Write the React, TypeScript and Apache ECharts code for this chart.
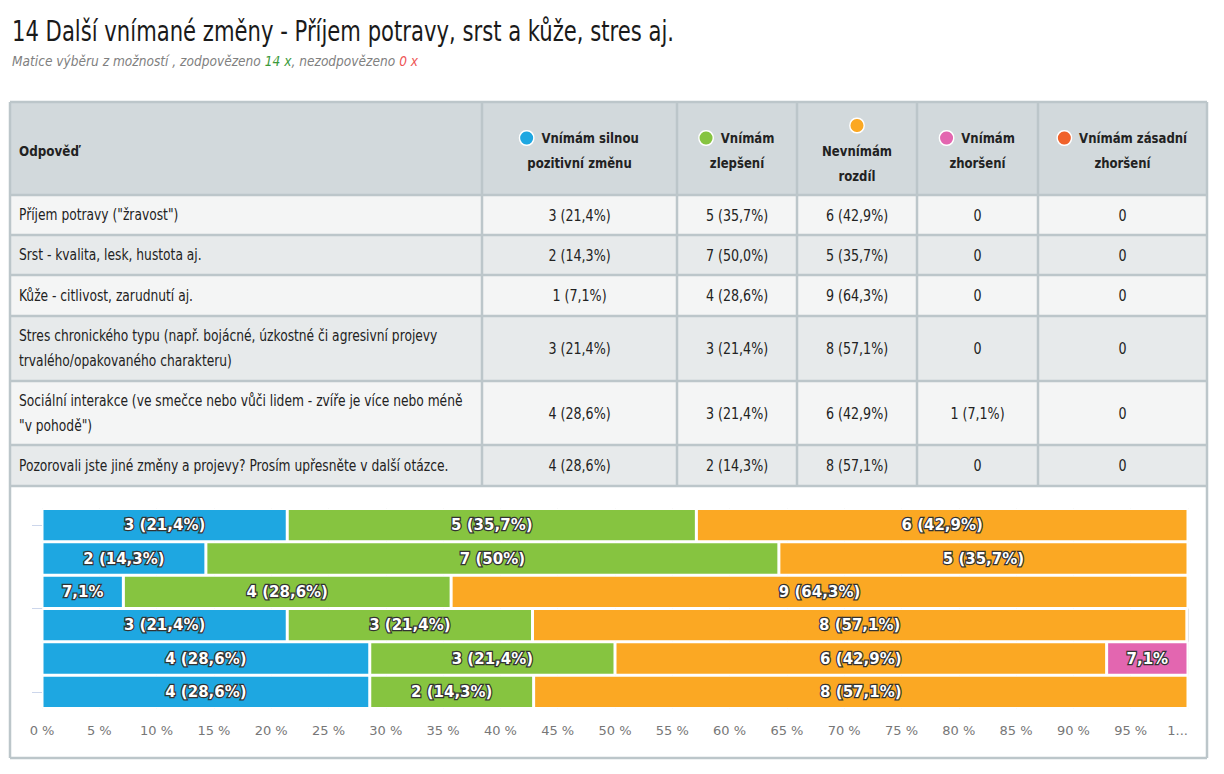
import React, { useEffect, useRef } from 'react';
import * as echarts from 'echarts';

const titleText = '14 Další vnímané změny - Příjem potravy, srst a kůže, stres aj.';
const subtitlePrefix = 'Matice výběru z možností , zodpovězeno ';
const answeredCount = 14;
const subtitleMiddle = ', nezodpovězeno ';
const unansweredCount = 0;

const answerHeader = 'Odpověď';
const categories = [
  'Příjem potravy ("žravost")',
  'Srst - kvalita, lesk, hustota aj.',
  'Kůže - citlivost, zarudnutí aj.',
  'Stres chronického typu (např. bojácné, úzkostné či agresivní projevy trvalého/opakovaného charakteru)',
  'Sociální interakce (ve smečce nebo vůči lidem - zvíře je více nebo méně "v pohodě")',
  'Pozorovali jste jiné změny a projevy? Prosím upřesněte v další otázce.',
];
// number of words on the first line of each row label (0 = no wrap)
const firstLineWords = [0, 0, 0, 9, 13, 0];

const seriesNames = [
  'Vnímám silnou pozitivní změnu',
  'Vnímám zlepšení',
  'Nevnímám rozdíl',
  'Vnímám zhoršení',
  'Vnímám zásadní zhoršení',
];
// header wrapping as shown in the table
const headerLines = [
  ['Vnímám silnou', 'pozitivní změnu'],
  ['Vnímám', 'zlepšení'],
  ['', 'Nevnímám', 'rozdíl'],
  ['Vnímám', 'zhoršení'],
  ['Vnímám zásadní', 'zhoršení'],
];
const seriesColors = ['#1ea7e1', '#86c440', '#fba823', '#e366b0', '#f0622b'];

const countsStrong = [3, 2, 1, 3, 4, 4];
const countsBetter = [5, 7, 4, 3, 3, 2];
const countsSame = [6, 5, 9, 8, 6, 8];
const countsWorse = [0, 0, 0, 0, 1, 0];
const countsMuchWorse = [0, 0, 0, 0, 0, 0];

const pctStrong = [21.4, 14.3, 7.1, 21.4, 28.6, 28.6];
const pctBetter = [35.7, 50.0, 28.6, 21.4, 21.4, 14.3];
const pctSame = [42.9, 35.7, 64.3, 57.1, 42.9, 57.1];
const pctWorse = [0, 0, 0, 0, 7.1, 0];
const pctMuchWorse = [0, 0, 0, 0, 0, 0];

const countsAll = [countsStrong, countsBetter, countsSame, countsWorse, countsMuchWorse];
const pctAll = [pctStrong, pctBetter, pctSame, pctWorse, pctMuchWorse];

// layout
const colX = [10, 482, 677, 797, 917, 1038, 1207];
const rowY = [102, 195, 235, 275, 316, 381, 445, 486];
const panelBottom = 758;

const FONT_NARROW = "'DejaVu Sans Condensed', 'DejaVu Sans', sans-serif";
const FONT_CHART = "'DejaVu Sans', sans-serif";

const fmtLong = (p: number) => p.toFixed(1).replace('.', ',');
const fmtShort = (p: number) => {
  const s = p.toFixed(1);
  return (s.endsWith('.0') ? s.slice(0, -2) : s).replace('.', ',');
};
const wrapLabel = (s: string, n: number) => {
  if (!n) return s;
  const w = s.split(' ');
  return w.slice(0, n).join(' ') + '\n' + w.slice(n).join(' ');
};

export default function App() {
  const ref = useRef<HTMLDivElement>(null);
  useEffect(() => {
    if (!ref.current) return;
    const chart = echarts.init(ref.current, undefined, { renderer: 'svg' });

    const g: any[] = [];
    const borderColor = '#bcc6ca';
    g.push({ type: 'rect', shape: { x: colX[0], y: rowY[0], width: colX[6] - colX[0], height: panelBottom - rowY[0] }, style: { fill: '#ffffff' }, z: 0 });
    g.push({ type: 'rect', shape: { x: colX[0], y: rowY[0], width: colX[6] - colX[0], height: rowY[1] - rowY[0] }, style: { fill: '#d2d9dc' }, z: 1 });
    for (let r = 0; r < categories.length; r++) {
      g.push({ type: 'rect', shape: { x: colX[0], y: rowY[r + 1], width: colX[6] - colX[0], height: rowY[r + 2] - rowY[r + 1] }, style: { fill: r % 2 === 0 ? '#f4f5f5' : '#e7eaeb' }, z: 1 });
    }
    const lines: number[][] = [];
    rowY.forEach((y) => lines.push([colX[0], y, colX[6], y]));
    lines.push([colX[0], panelBottom, colX[6], panelBottom]);
    colX.forEach((x, i) => {
      if (i === 0 || i === colX.length - 1) lines.push([x, rowY[0], x, panelBottom]);
      else lines.push([x, rowY[0], x, rowY[rowY.length - 1]]);
    });
    lines.forEach(([x1, y1, x2, y2]) =>
      g.push({ type: 'line', shape: { x1, y1, x2, y2 }, style: { stroke: borderColor, lineWidth: 2.5 }, z: 2 })
    );

    // title & subtitle
    g.push({ type: 'text', x: 12, y: 31, scaleX: 0.84, z: 5, style: { text: titleText, fontSize: 28, fontFamily: FONT_NARROW, fill: '#1a1a1a', verticalAlign: 'middle', align: 'left' } });
    g.push({
      type: 'text', x: 12, y: 61, scaleX: 0.97, z: 5,
      style: {
        text: `{a|${subtitlePrefix}}{g|${answeredCount} x}{a|${subtitleMiddle}}{r|${unansweredCount} x}`,
        verticalAlign: 'middle', align: 'left',
        rich: {
          a: { fontSize: 14, fontStyle: 'italic', fontFamily: FONT_NARROW, fill: '#808080' },
          g: { fontSize: 14, fontStyle: 'italic', fontFamily: FONT_NARROW, fill: '#3a9a3a' },
          r: { fontSize: 14, fontStyle: 'italic', fontFamily: FONT_NARROW, fill: '#ee5555' },
        },
      },
    });

    // header texts
    const headMidY = (rowY[0] + rowY[1]) / 2 + 2;
    g.push({ type: 'text', x: 19, y: headMidY, scaleX: 0.95, z: 5, style: { text: answerHeader, fontSize: 14, fontWeight: 'bold', fontFamily: FONT_NARROW, fill: '#222', verticalAlign: 'middle', align: 'left' } });
    headerLines.forEach((ls, i) => {
      const cx = (colX[i + 1] + colX[i + 2]) / 2;
      const first = ls[0] === '' ? '{dot|}' : `{dot|}  ${ls[0]}`;
      const text = [first, ...ls.slice(1)].join('\n');
      g.push({
        type: 'text', x: cx, y: headMidY, scaleX: 0.93, z: 5,
        style: {
          text, fontSize: 14, fontWeight: 'bold', fontFamily: FONT_NARROW, fill: '#222', lineHeight: 25,
          align: 'center', verticalAlign: 'middle',
          rich: { dot: { width: 14, height: 13, borderRadius: 7, backgroundColor: seriesColors[i], borderColor: '#ffffff', borderWidth: 1.5 } },
        },
      });
    });

    // body texts
    categories.forEach((cat, r) => {
      const cy = (rowY[r + 1] + rowY[r + 2]) / 2;
      g.push({ type: 'text', x: 19, y: cy, scaleX: 0.91, z: 5, style: { text: wrapLabel(cat, firstLineWords[r]), lineHeight: 25, fontSize: 15, fontFamily: FONT_NARROW, fill: '#222', verticalAlign: 'middle', align: 'left' } });
      countsAll.forEach((arr, s) => {
        const c = arr[r];
        const txt = c === 0 ? '0' : `${c} (${fmtLong(pctAll[s][r])}%)`;
        const cx = (colX[s + 1] + colX[s + 2]) / 2;
        g.push({ type: 'text', x: cx, y: cy, scaleX: 0.94, z: 5, style: { text: txt, fontSize: 15, fontFamily: FONT_NARROW, fill: '#222', verticalAlign: 'middle', align: 'center' } });
      });
    });

    const series = seriesNames.map((name, s) => ({
      name,
      type: 'bar',
      stack: 'total',
      barWidth: '100%',
      yAxisIndex: 0,
      itemStyle: { color: seriesColors[s], borderColor: '#ffffff', borderWidth: 1.5 },
      emphasis: { disabled: true },
      label: {
        show: true,
        position: 'inside',
        color: '#ffffff',
        fontSize: 15,
        fontWeight: 'bold',
        fontFamily: FONT_CHART,
        textBorderColor: '#333333',
        textBorderWidth: 2.5,
        formatter: (p: any) => {
          const c = p.data.count;
          if (!c) return '';
          const v = p.data.value;
          return v < 10 ? `${fmtShort(v)}%` : `${c} (${fmtShort(v)}%)`;
        },
      },
      data: pctAll[s].map((v, r) => ({ value: v, count: countsAll[s][r] })),
    }));

    chart.setOption({
      animation: false,
      grid: { left: 42, right: 36, top: 508.5, height: 200 },
      xAxis: {
        type: 'value', min: 0, max: 100, interval: 5,
        axisLine: { show: false }, axisTick: { show: false },
        splitLine: { lineStyle: { color: '#e6e6e6' } },
        axisLabel: { color: '#777777', fontSize: 13, fontFamily: FONT_CHART, margin: 15, alignMaxLabel: 'right', formatter: (v: number) => (v === 100 ? '1...' : `${v} %`) },
      },
      yAxis: [
        { type: 'category', data: categories, inverse: true, axisLabel: { show: false }, axisLine: { show: false }, axisTick: { show: false } },
        {
          type: 'value', min: -0.5, max: 5.5, inverse: true, position: 'left',
          axisLabel: { show: false }, axisLine: { show: false }, splitLine: { show: false },
          axisTick: { show: true, length: 10, customValues: [0, 2.5, 5], lineStyle: { color: '#ccd6eb' } },
        },
      ],
      graphic: { elements: g },
      series,
    });
    return () => chart.dispose();
  }, []);
  return <div ref={ref} style={{ position: 'absolute', left: 0, top: 0, width: 1224, height: 774, background: '#ffffff' }} />;
}
